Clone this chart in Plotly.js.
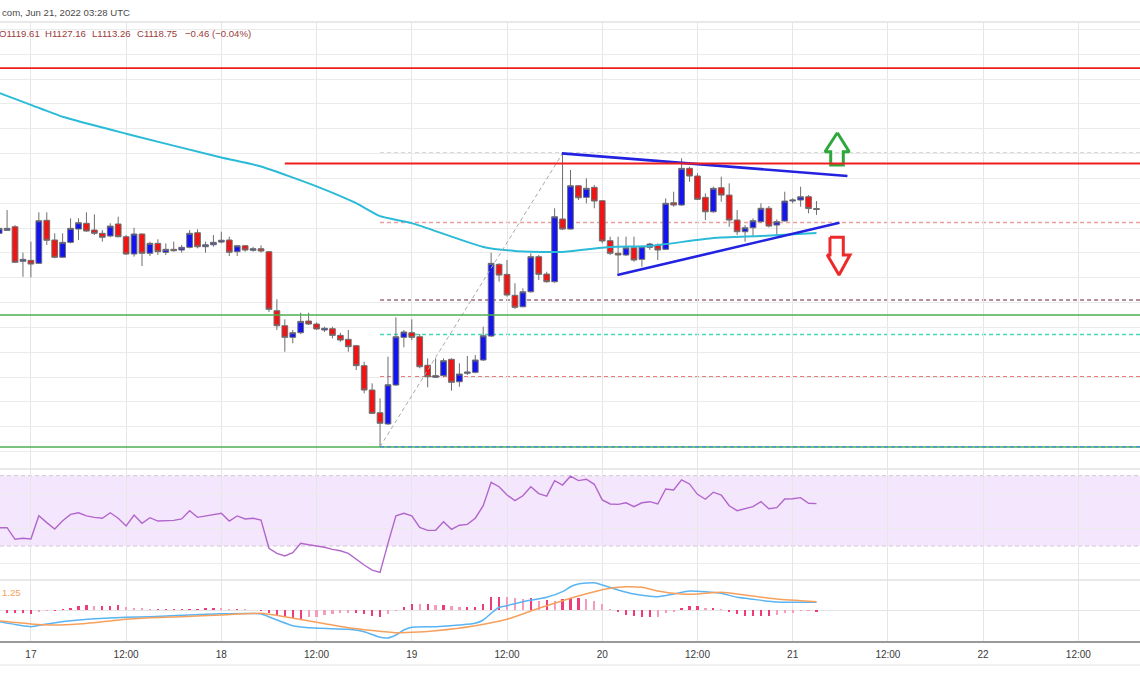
<!DOCTYPE html>
<html><head><meta charset="utf-8">
<script src="https://cdn.plot.ly/plotly-3.0.1.min.js"></script>
<style>html,body{margin:0;padding:0;background:#fff;overflow:hidden}#chart{width:1140px;height:694px}</style>
</head><body><div id="chart"></div>
<script>
// ---------- DATA (hours since Jun 17 00:00, hourly ETH/USD candles) ----------
const hours = [-4,-3,-2,-1,0,1,2,3,4,5,6,7,8,9,10,11,12,13,14,15,16,17,18,19,20,21,22,23,24,25,26,27,28,29,30,31,32,33,34,35,36,37,38,39,40,41,42,43,44,45,46,47,48,49,50,51,52,53,54,55,56,57,58,59,60,61,62,63,64,65,66,67,68,69,70,71,72,73,74,75,76,77,78,79,80,81,82,83,84,85,86,87,88,89,90,91,92,93,94,95,96,97,98,99];
const openP = [1094.7,1097.7,1101.3,1066.5,1067.5,1064.5,1107.8,1088.0,1070.6,1085.6,1099.0,1104.8,1098.0,1094.7,1092.0,1104.1,1091.3,1073.9,1094.0,1074.6,1084.6,1075.6,1078.6,1077.9,1080.6,1095.3,1081.2,1083.2,1085.9,1088.0,1076.2,1082.2,1077.6,1079.2,1076.2,1016.8,1001.7,990.0,994.7,1006.4,1003.4,997.4,998.7,992.0,988.0,981.6,961.5,937.0,914.1,902.8,942.0,990.0,994.7,990.6,961.9,949.8,951.4,967.9,945.3,953.8,954.8,967.2,991.3,1063.5,1053.4,1032.3,1020.8,1035.9,1071.2,1053.7,1046.0,1109.1,1099.0,1142.6,1130.9,1141.0,1127.5,1087.3,1074.6,1072.9,1080.2,1068.5,1080.6,1083.0,1078.6,1125.5,1123.2,1160.1,1152.4,1130.9,1116.4,1140.6,1133.2,1108.1,1096.3,1100.3,1106.4,1119.9,1103.0,1107.1,1127.2,1128.2,1131.5,1119.61];
const highP = [1101.0,1118.1,1103.0,1075.2,1086.3,1115.8,1115.8,1094.7,1094.7,1109.8,1109.8,1115.8,1113.8,1098.0,1104.8,1111.4,1093.0,1100.3,1094.7,1086.3,1088.7,1084.6,1086.3,1083.0,1098.0,1098.7,1086.3,1093.0,1096.3,1091.3,1083.0,1083.0,1081.2,1082.6,1076.9,1028.3,1008.1,997.4,1014.8,1014.8,1005.1,1000.7,1000.7,994.7,997.4,982.3,965.5,943.7,928.6,970.5,1010.1,997.4,1008.1,993.3,968.9,968.9,968.9,968.9,963.9,971.2,972.2,1000.7,1075.2,1064.5,1067.8,1044.4,1039.3,1074.6,1072.9,1056.0,1119.9,1175.2,1158.4,1143.3,1150.0,1143.3,1128.2,1091.3,1091.3,1091.3,1091.3,1081.9,1085.2,1084.6,1129.9,1136.6,1170.2,1161.7,1155.1,1134.9,1141.6,1151.7,1145.0,1118.1,1103.0,1109.8,1124.9,1122.2,1108.8,1136.6,1129.9,1141.6,1133.2,1127.16];
const lowP = [1094.0,1097.0,1064.8,1051.0,1050.4,1063.8,1083.0,1069.6,1069.9,1084.6,1088.0,1096.3,1093.0,1086.3,1090.7,1090.7,1072.9,1071.2,1061.8,1071.9,1072.9,1072.9,1076.2,1075.2,1079.6,1079.6,1075.2,1081.2,1084.6,1071.9,1071.9,1076.2,1076.2,1075.2,1015.5,997.4,975.5,984.0,993.3,1002.4,997.4,995.4,989.0,985.6,975.5,957.1,933.7,912.8,879.9,901.8,941.0,980.0,987.3,958.8,939.7,949.1,949.8,936.3,940.3,952.1,953.8,966.2,990.3,1046.0,1030.9,1018.5,1020.2,1034.9,1047.7,1045.0,1045.0,1098.0,1098.5,1128.2,1124.9,1119.9,1084.6,1072.9,1054.4,1071.9,1066.1,1061.1,1077.9,1067.8,1077.9,1121.5,1122.2,1146.6,1128.2,1108.1,1115.4,1126.5,1101.3,1093.0,1086.3,1091.3,1105.4,1100.7,1093.0,1106.4,1124.9,1121.5,1114.8,1113.26];
const closeP = [1099.7,1099.7,1065.5,1068.5,1063.8,1107.4,1087.7,1070.6,1085.6,1099.7,1105.4,1097.0,1094.7,1090.7,1102.0,1091.3,1073.9,1094.0,1074.6,1084.6,1076.2,1078.6,1077.2,1080.6,1094.7,1081.2,1083.2,1085.6,1087.7,1075.6,1082.2,1077.9,1079.2,1076.9,1018.2,1001.7,990.0,994.7,1006.1,1003.4,998.4,999.1,992.0,987.3,980.6,961.5,937.0,913.5,903.5,942.3,990.6,995.4,990.0,960.4,950.4,951.4,966.5,944.7,953.1,955.1,967.2,991.6,1064.5,1052.7,1032.6,1020.2,1035.9,1071.2,1053.4,1046.0,1111.4,1099.0,1142.6,1130.5,1140.0,1127.2,1087.0,1074.6,1072.9,1080.2,1067.8,1081.2,1083.9,1077.9,1124.9,1123.2,1160.1,1152.4,1128.9,1116.4,1140.0,1133.2,1108.1,1096.3,1100.3,1107.4,1119.9,1102.0,1106.4,1127.2,1128.2,1131.5,1119.61,1118.75];

// 100-hour simple moving average (read at selected hours)
const maHours  = [-4,0,4,12,24,29,36,41,44,48,57,61,65,67,73,78,86,92,99];
const maValues = [1236,1224,1212,1195,1171,1162,1142,1125,1112,1105,1081,1077,1076,1076,1081,1082,1090,1092,1095];

// horizontal levels
const redLevels   = [1261, 1165];
const redStarts   = [-5, 32];
const greenLevels = [1012.5, 879.6];
// fibonacci retracement (swing low h44 -> swing high h67)
const fibStartHour = 44;
const fibLevels = [1175.2, 1105.6, 1027.6, 992.8, 950.1, 880.0];
const fibTrendHours = [44, 67];
const fibTrendPrices = [879.9, 1175.2];

// triangle trend lines
const upperTLHours = [66.9, 102.9], upperTLPrices = [1175.2, 1152.4];
const lowerTLHours = [73.9, 101.9], lowerTLPrices = [1052.7, 1105.4];

// breakout arrows (outline polygons)
const upArrowHours  = [101.63,103.13,102.38,102.38,100.79,100.79,100.07,101.63];
const upArrowPrices = [1195.9,1176.8,1176.8,1163.4,1163.4,1176.8,1176.8,1195.9];
const dnArrowHours  = [100.7,102.38,102.38,103.22,101.84,100.36,100.7,100.7];
const dnArrowPrices = [1090.7,1090.7,1072.9,1072.9,1052.7,1072.9,1072.9,1090.7];

// RSI (14)
const rsiValues = [40.4,40.4,33.8,34.4,34.0,47.2,43.3,39.7,44.4,48.0,48.9,47.1,46.3,45.8,48.9,45.8,41.4,47.6,42.9,46.1,44.2,44.4,44.6,45.4,50.1,46.3,47.1,48.0,48.6,44.2,47.1,45.4,45.8,44.8,28.7,25.8,24.3,26.2,31.5,30.7,30.0,29.3,28.1,27.3,25.8,22.4,19.2,16.3,15.0,31.5,47.2,48.6,47.2,40.6,38.9,38.9,43.8,39.5,41.8,42.3,45.8,52.9,66.2,63.7,59.0,55.8,58.6,63.7,59.8,58.4,67.2,64.7,69.7,67.2,68.0,65.1,56.2,53.9,53.7,54.6,52.4,54.6,55.2,53.9,62.4,61.9,67.6,65.3,59.4,56.6,60.6,59.0,52.9,50.1,51.2,52.4,55.2,51.2,51.8,56.7,56.9,57.5,54.3,54.1];
const rsiBand = [30, 70];

// MACD
const macdHours  = [-4,0,2,5,8,12,15,19,24,29,31,33,35,40,42,44,45,46,47,48,51,54,56,57,58,59,60,62,65,67,68,69,71,72,74,76,79,81,83,85,87,89,91,94,99];
const macdValues = [-11.7,-16.7,-14,-10.7,-8.7,-7.3,-6.7,-5.3,-3.7,-4,-10,-15.7,-17.7,-19.3,-21.7,-27.3,-28,-25,-20,-17.3,-16.7,-15,-13.3,-10,-3.3,2.7,4.3,8.3,12.7,18.3,23.3,26,27.3,25,20,16,13.3,16,19,18.3,16.7,12.7,10.7,8,7.7];
const sigHours  = [-4,0,3,6,10,12,15,19,24,29,32,36,40,46,48,51,56,60,64,68,71,73,75,77,79,82,84,87,90,94,99];
const sigValues = [-11,-14,-15,-14,-11,-9.3,-7.7,-6.7,-5,-3.3,-6.7,-12.3,-17.7,-22.7,-22.3,-20.7,-15.7,-9.3,1.7,11.7,18.3,21.7,23.3,22.7,19,16,16,17.7,15,11,8.3];
const histValues = [-3,-3,-3,-3.3,-4,-1.7,-0.7,-0.7,0.7,2.3,4,5,4,4,4,4.7,2.7,2.3,1.7,0.7,0.7,0.7,0.7,1,1,1.3,1.7,2.3,1.7,1.3,1.3,0.7,0,-0.7,-3.3,-5,-6.7,-7.7,-9,-7.3,-6.7,-5,-4,-3.3,-2.7,-3.3,-4.3,-6,-7.3,-4.3,-0.7,2.7,6,5.7,6,5,5,4,3.3,3.3,3.3,6,12.7,13.3,12.7,11.7,10.7,11.7,9.3,10,9.3,10.7,11.7,11.7,10.7,9,6,0.7,-2.3,-5,-6,-7.3,-7.3,-6.7,-3.3,-1.7,2.3,4,4,2.3,2.3,0.7,-2.3,-4.3,-5.7,-5.7,-5.7,-5.7,-5,-3.3,-2.7,-1,-0.7,-1.7];
const macdLabel = '1.25';

// x axis
const tickHours  = [0,12,24,36,48,60,72,84,96,108,120,132];
const tickLabels = ['17','12:00','18','12:00','19','12:00','20','12:00','21','12:00','22','12:00'];

// header texts
const headerText = 'com, Jun 21, 2022 03:28 UTC';
const ohlcTokens = ['O1119.61','H1127.16','L1113.26','C1118.75','\u22120.46 (\u22120.04%)'];

// ---------- STYLE / LAYOUT ----------
const W = 1140, H = 694, TOP = 22, AXIS_Y = 641;
const plotH = AXIS_Y - TOP;
const py = y => (AXIS_Y - y) / plotH;   // pixel row -> paper y
const px = x => x / W;
const mainBottom = py(469), rsiBottom = py(580);
const xRange = [-3.894, 139.77];

const histColors = histValues.map((v, i) => {
  const prev = i > 0 ? histValues[i - 1] : v;
  return Math.abs(v) >= Math.abs(prev) ? '#ee3b7c' : '#f59cbd';
});

const traces = [
  {type:'scatter', mode:'lines', x:maHours, y:maValues, line:{color:'#2bbbd8', width:2, shape:'spline', smoothing:0.5}, hoverinfo:'skip', xaxis:'x', yaxis:'y'},
  {type:'candlestick', x:hours, open:openP, high:highP, low:lowP, close:closeP,
   increasing:{fillcolor:'#1414f0', line:{color:'#6e6e6e', width:1}},
   decreasing:{fillcolor:'#f01414', line:{color:'#6e6e6e', width:1}},
   whiskerwidth:0, hoverinfo:'skip', xaxis:'x', yaxis:'y'},
  {type:'scatter', mode:'lines', x:fibTrendHours, y:fibTrendPrices, line:{color:'#a9a9a9', width:1, dash:'4px,3px'}, hoverinfo:'skip'},
  {type:'scatter', mode:'lines', x:upperTLHours, y:upperTLPrices, line:{color:'#2222e0', width:2.6}, hoverinfo:'skip'},
  {type:'scatter', mode:'lines', x:lowerTLHours, y:lowerTLPrices, line:{color:'#2222e0', width:2.6}, hoverinfo:'skip'},
  {type:'scatter', mode:'lines', x:upArrowHours, y:upArrowPrices, line:{color:'#2ea83c', width:3}, hoverinfo:'skip'},
  {type:'scatter', mode:'lines', x:dnArrowHours, y:dnArrowPrices, line:{color:'#ec2a2a', width:3}, hoverinfo:'skip'},
  {type:'scatter', mode:'lines', x:hours, y:rsiValues, line:{color:'#b266cc', width:1.4}, hoverinfo:'skip', xaxis:'x', yaxis:'y2'},
  {type:'bar', x:hours, y:histValues, width:0.28, marker:{color:histColors, line:{width:0}}, hoverinfo:'skip', xaxis:'x', yaxis:'y3'},
  {type:'scatter', mode:'lines', x:macdHours, y:macdValues, line:{color:'#5ab4f2', width:1.5, shape:'spline', smoothing:0.5}, hoverinfo:'skip', xaxis:'x', yaxis:'y3'},
  {type:'scatter', mode:'lines', x:sigHours, y:sigValues, line:{color:'#f7a05c', width:1.5, shape:'spline', smoothing:0.5}, hoverinfo:'skip', xaxis:'x', yaxis:'y3'}
];

const fibColors = ['#b4b4b4','#eaa0a0','#9c6c7c','#45d8b4','#e25050','#4a94d0'];
const shapes = [];
// RSI band
shapes.push({type:'rect', xref:'paper', yref:'y2', x0:0, x1:1, y0:rsiBand[0], y1:rsiBand[1], fillcolor:'#f4e6fc', line:{width:0}, layer:'below'});
rsiBand.forEach(v => shapes.push({type:'line', xref:'paper', yref:'y2', x0:0, x1:1, y0:v, y1:v, line:{color:'#cfc4d4', width:1, dash:'4px,3px'}, layer:'below'}));
// green support lines
greenLevels.forEach(v => shapes.push({type:'line', xref:'paper', yref:'y', x0:0, x1:1, y0:v, y1:v, line:{color:'#4caf50', width:1.6}, layer:'above'}));
// fib levels (the swing-low level sits on top of the green support line)
fibLevels.forEach((v, i) => shapes.push({type:'line', xref:'x', yref:'y', x0:fibStartHour, x1:150, y0:v, y1:v,
  line:{color:fibColors[i], width:1.5, dash:'4px,3px'}, layer: i === fibLevels.length - 1 ? 'above' : 'below'}));
// red resistance lines
redLevels.forEach((v, i) => shapes.push({type:'line', xref:'x', yref:'y', x0:redStarts[i], x1:150, y0:v, y1:v, line:{color:'#f01e1e', width:1.8}, layer:'above'}));
// panel separators and borders
[1, mainBottom, rsiBottom].forEach(v => shapes.push({type:'line', xref:'paper', yref:'paper', x0:0, x1:1, y0:v, y1:v, line:{color:'#e2e2e6', width:1.5}, layer:'above'}));
shapes.push({type:'line', xref:'paper', yref:'paper', x0:0, x1:1, y0:py(665), y1:py(665), line:{color:'#ececf0', width:1.5}});

const ohlcX = [-3.4, 43.3, 90, 135, 183];
const annotations = [
  {xref:'paper', yref:'paper', x:0, y:py(12), xanchor:'left', yanchor:'middle', text:headerText, showarrow:false, font:{family:'Liberation Sans, Arial, sans-serif', size:9.6, color:'#4a4a4a'}},
  ...ohlcTokens.map((t, i) => ({xref:'paper', yref:'paper', x:px(ohlcX[i]), y:py(34), xanchor:'left', yanchor:'middle', text:t, showarrow:false, font:{family:'Liberation Sans, Arial, sans-serif', size:9.6, color:'#9a3b3b'}})),
  {xref:'paper', yref:'paper', x:0, y:py(592), xanchor:'left', yanchor:'middle', text:macdLabel, showarrow:false, font:{family:'Liberation Sans, Arial, sans-serif', size:9.6, color:'#f5a05a'}}
];

const gridC = '#ebebeb';
const layout = {
  width:W, height:H,
  margin:{l:0, r:0, t:TOP, b:H - AXIS_Y, pad:0},
  paper_bgcolor:'#ffffff', plot_bgcolor:'#ffffff',
  showlegend:false, hovermode:false, dragmode:false,
  font:{family:'Liberation Sans, Arial, sans-serif', size:10, color:'#333'},
  xaxis:{range:xRange, tickvals:tickHours, ticktext:tickLabels, showgrid:true, gridcolor:'#e6e6e6', gridwidth:1,
         zeroline:false, showline:true, linecolor:'#9a9a9a', linewidth:1.5, ticks:'', anchor:'y3',
         rangeslider:{visible:false}, tickfont:{size:10, color:'#3a3a3a'}, ticklabelstandoff:3, fixedrange:true},
  yaxis:{domain:[mainBottom, 1], range:[857.5, 1307.4], dtick:25, tick0:0, showticklabels:false, gridcolor:gridC, zeroline:false, ticks:'', fixedrange:true},
  yaxis2:{domain:[rsiBottom, mainBottom], range:[10.65, 73.8], tickvals:[20,40,60], showticklabels:false, gridcolor:gridC, zeroline:false, ticks:'', fixedrange:true},
  yaxis3:{domain:[0, rsiBottom], range:[-31, 30], tickvals:[0], showticklabels:false, gridcolor:'#e4e4e4', zeroline:false, ticks:'', fixedrange:true},
  bargap:0,
  boxgap:0.28,
  boxgroupgap:0,
  shapes:shapes,
  annotations:annotations
};

Plotly.newPlot('chart', traces, layout, {staticPlot:true, displayModeBar:false});
</script></body></html>
